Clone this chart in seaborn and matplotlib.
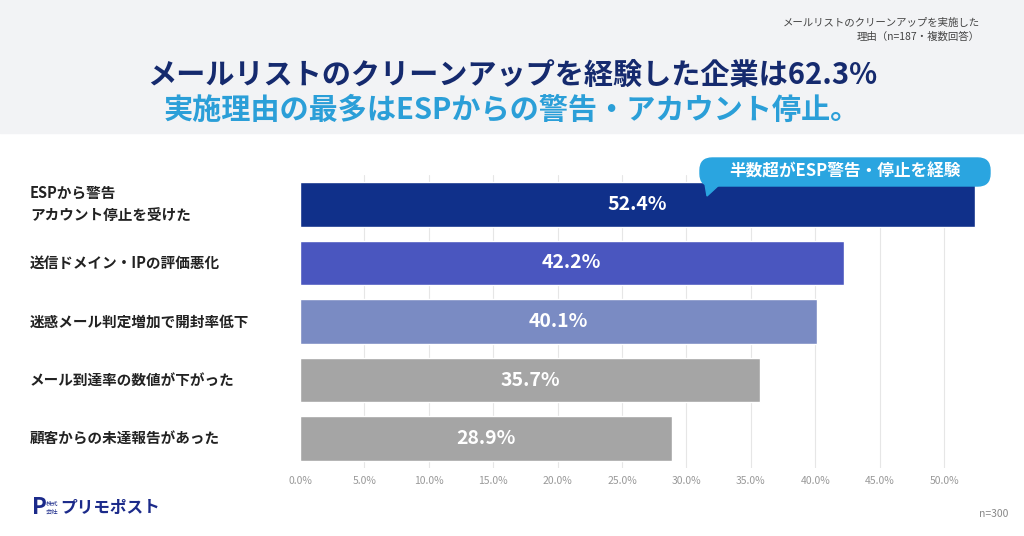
import matplotlib
matplotlib.use('Agg')
import matplotlib.pyplot as plt
import seaborn as sns
import pandas as pd
from matplotlib.patches import FancyBboxPatch, Rectangle, Polygon
from matplotlib.transforms import blended_transform_factory

labels = ['ESPから警告\nアカウント停止を受けた', '送信ドメイン・IPの評価悪化',
          '迷惑メール判定増加で開封率低下', 'メール到達率の数値が下がった', '顧客からの未達報告があった']
values = [52.4, 42.2, 40.1, 35.7, 28.9]
colors = ['#10308a', '#4a56bf', '#7a8bc3', '#a5a5a5', '#a5a5a5']
ticks = [0, 5, 10, 15, 20, 25, 30, 35, 40, 45, 50]

df = pd.DataFrame({'label': labels, 'value': values})

sns.set_style('white')
plt.rcParams['font.family'] = ['Noto Sans CJK JP', 'DejaVu Sans']

fig = plt.figure(figsize=(10.24, 5.36), dpi=100)
fig.patches.append(Rectangle((0, 1 - 133 / 536), 1, 133 / 536, transform=fig.transFigure,
                             color='#f2f3f5', zorder=0))

ax = fig.add_axes([300 / 1024, (536 - 468) / 536, 693 / 1024, 293 / 536])
sns.barplot(data=df, x='value', y='label', hue='label', palette=colors, legend=False,
            width=0.76, ax=ax, saturation=1)
ax.set_xlim(0, 53.8)
ax.set_xticks(ticks)
ax.set_xticklabels([f'{t:.1f}%' for t in ticks], color='#999999', fontsize=7.5)
ax.set_yticks(range(len(labels)))
ax.set_yticklabels([])
ax.tick_params(axis='y', length=0)
ax.tick_params(axis='x', length=0, pad=6)
ax.set_xlabel('')
ax.set_ylabel('')
for t in ticks[1:]:
    ax.axvline(t, color='#e6e6e6', lw=0.8, zorder=0)
for s in ax.spines.values():
    s.set_visible(False)
trans = blended_transform_factory(fig.transFigure, ax.transData)
for i, (lab, v) in enumerate(zip(labels, values)):
    ax.text(v / 2, i, f'{v}%', ha='center', va='center', color='white', fontsize=14, fontweight='bold')
    ax.text(30 / 1024, i, lab, transform=trans, ha='left', va='center', fontsize=10.5,
            fontweight='bold', color='#222222', linespacing=1.5)

fig.text(0.5, 1 - 75 / 536, 'メールリストのクリーンアップを経験した企業は62.3%', ha='center', va='center',
         fontsize=21, fontweight='bold', color='#152a6e')
fig.text(0.5, 1 - 110 / 536, '実施理由の最多はESPからの警告・アカウント停止。', ha='center', va='center',
         fontsize=21, fontweight='bold', color='#2b9fd8')
fig.text(980 / 1024, 1 - 30 / 536, 'メールリストのクリーンアップを実施した\n理由（n=187・複数回答）',
         ha='right', va='center', fontsize=7.5, color='#444444', linespacing=1.4)

box = FancyBboxPatch((700 / 1024, 1 - 186 / 536), 290 / 1024, 28 / 536,
                     boxstyle='round,pad=0,rounding_size=0.012', mutation_aspect=1.91,
                     transform=fig.transFigure, color='#2aa5e0')
fig.patches.append(box)
fig.patches.append(Polygon([(705 / 1024, 1 - 184 / 536), (720 / 1024, 1 - 184 / 536), (707 / 1024, 1 - 196 / 536)],
                           closed=True, transform=fig.transFigure, color='#2aa5e0'))
fig.text(845 / 1024, 1 - 172 / 536, '半数超がESP警告・停止を経験', ha='center', va='center',
         fontsize=12, fontweight='bold', color='white')

fig.text(32 / 1024, 1 - 508 / 536, 'P', fontsize=16, fontweight='bold', color='#1b2a8a', va='center')
fig.text(46 / 1024, 1 - 508 / 536, '株式\n会社', fontsize=4.5, color='#1b2a8a', va='center', linespacing=1.0)
fig.text(60 / 1024, 1 - 508 / 536, 'プリモポスト', fontsize=12, fontweight='bold', color='#1b2a8a', va='center')
fig.text(1008 / 1024, 1 - 514 / 536, 'n=300', ha='right', va='center', fontsize=7.5, color='#888888')

fig.savefig('out.png', dpi=100)
